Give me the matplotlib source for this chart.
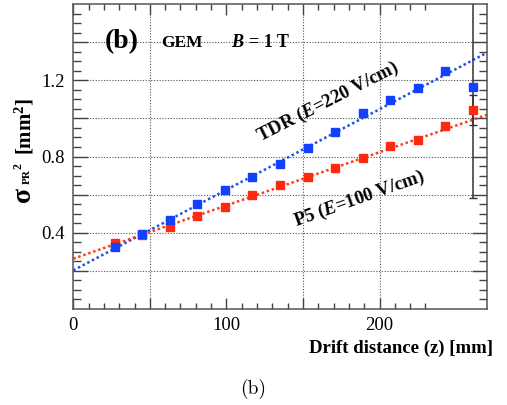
import numpy as np
import matplotlib
matplotlib.use("Agg")
import matplotlib.pyplot as plt
from matplotlib.ticker import FixedLocator

plt.rcParams['font.family'] = ['Liberation Serif', 'DejaVu Serif']
plt.rcParams['mathtext.fontset'] = 'custom'
plt.rcParams['mathtext.rm'] = 'Liberation Serif:bold'
plt.rcParams['mathtext.bf'] = 'Liberation Serif:bold'
plt.rcParams['mathtext.it'] = 'Liberation Serif:italic:bold'

# ---- data ----
drift_z = [27, 45, 63, 81, 99, 117, 135, 153, 171, 189, 207, 225, 243, 261]
tdr_sigma2 = [0.327, 0.391, 0.466, 0.553, 0.626, 0.692, 0.762, 0.847, 0.930,
              1.030, 1.096, 1.162, 1.247, 1.165]
p5_sigma2 = [0.348, 0.390, 0.431, 0.490, 0.536, 0.600, 0.652, 0.692, 0.739,
             0.790, 0.857, 0.887, 0.960, 1.043]
tdr_err = [0.01] * 13 + [0.585]
p5_err = [0.01] * 13 + [0.08]
tdr_fit = [0.203, 0.004226]   # intercept, slope
p5_fit = [0.264, 0.002794]
x_ticklabels = ['0', '', '100', '', '200']
y_ticklabels = ['', '0.4', '', '0.8', '', '1.2', '']

BLUE = '#1240ff'
RED = '#ff2a0e'
BLUE_L = '#1f4fe8'
RED_L = '#ff3a14'

W, H = 507, 405
fig = plt.figure(figsize=(W / 100, H / 100), dpi=100)
ax = fig.add_axes([0.1446, 0.237, 0.8154, 0.753])
ax.set_xlim(0, 270)
ax.set_ylim(0, 1.6)

# grid
for gy in [0.2, 0.4, 0.6, 0.8, 1.0, 1.2, 1.4]:
    ax.axhline(gy, color='#555555', lw=0.8, ls=(0, (1, 1.5)), zorder=1)
for gx in [50, 150, 200]:
    ax.axvline(gx, color='#555555', lw=0.8, ls=(0, (1, 1.5)), zorder=1)

# fit lines
xf = np.array([0, 270])
ax.plot(xf, tdr_fit[0] + tdr_fit[1] * xf, color=BLUE_L, lw=1.8,
        ls=(0, (1, 1.1)), zorder=2)
ax.plot(xf, p5_fit[0] + p5_fit[1] * xf, color=RED_L, lw=1.8,
        ls=(0, (1, 1.1)), zorder=2)

# error bars
ax.errorbar(drift_z, tdr_sigma2, yerr=tdr_err, fmt='none', ecolor='#333333',
            elinewidth=1.1, capsize=3, zorder=3)
ax.errorbar(drift_z, p5_sigma2, yerr=p5_err, fmt='none', ecolor='#333333',
            elinewidth=1.1, capsize=3, zorder=3)

# markers
ax.plot(drift_z, p5_sigma2, 's', color=RED, ms=6.2, mec=RED, zorder=4)
ax.plot(drift_z, tdr_sigma2, 's', color=BLUE, ms=6.2, mec=BLUE, zorder=5)

# ticks
ax.xaxis.set_major_locator(FixedLocator([0, 50, 100, 150, 200]))
ax.set_xticklabels(x_ticklabels)
ax.xaxis.set_minor_locator(FixedLocator([v for v in range(10, 231, 10) if v % 50]))
ax.yaxis.set_major_locator(FixedLocator([0.2, 0.4, 0.6, 0.8, 1.0, 1.2, 1.4]))
ax.set_yticklabels(y_ticklabels)
ax.yaxis.set_minor_locator(FixedLocator([v / 100 for v in range(5, 160, 5) if v % 20]))
ax.tick_params(axis='both', which='both', direction='in', top=True, right=True,
               color='#444444', labelsize=13.5)
ax.tick_params(axis='x', which='major', length=8, width=1.0, pad=6)
ax.tick_params(axis='x', which='minor', length=4.5, width=1.0)
ax.tick_params(axis='y', which='major', length=11, width=1.0, pad=6)
ax.tick_params(axis='y', which='minor', length=6, width=1.0)
for lbl in ax.get_xticklabels() + ax.get_yticklabels():
    lbl.set_fontfamily('Liberation Serif')
    lbl.set_fontweight('normal')
for s in ax.spines.values():
    s.set_color('#555555')
    s.set_linewidth(1.1)

# x label
ax.set_xlabel('Drift distance (z) [mm]', fontsize=13.5, fontweight='bold',
              ha='right', va='center')
ax.xaxis.set_label_coords(1.016, -0.13)


# y label (composite, rotated)
def ftxt(px, py, s, size):
    fig.text(px / W, 1 - py / H, s, fontsize=size, fontweight='bold',
             rotation=90, ha='center', va='center')


ftxt(23.5, 195, '\u03c3', 20)
ftxt(27.5, 177, 'PR', 8)
ftxt(19.0, 166, '2', 8.5)
ftxt(24.5, 126, r'[mm$^{2}$]', 15)

# annotations
ax.text(31.5, 1.405, '(b)', fontsize=20, fontweight='bold', ha='center', va='center')
ax.text(71, 1.398, 'GEM', fontsize=12.5, fontweight='bold', ha='center', va='center')
ax.text(103, 1.398, 'B', fontsize=13, fontweight='bold', fontstyle='italic',
        ha='left', va='center')
ax.text(114.5, 1.398, '= 1 T', fontsize=13, fontweight='bold', ha='left', va='center')
ax.text(166, 1.085, r'TDR ($E$=220 V/cm)', fontsize=13.5, fontweight='bold',
        rotation=27, rotation_mode='anchor', ha='center', va='center')
ax.text(187, 0.579, r'P5 ($E$=100 V/cm)', fontsize=13.5, fontweight='bold',
        rotation=19.5, rotation_mode='anchor', ha='center', va='center')

fig.text(253 / W, 1 - 389 / H, '(b)', fontsize=14, family='cmr10',
         ha='center', va='center')

fig.savefig('out.png', dpi=100)
